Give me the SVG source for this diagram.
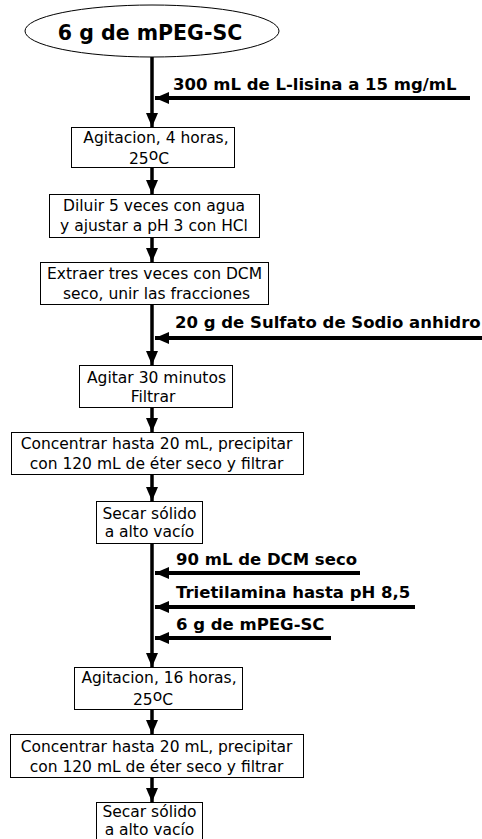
<svg xmlns="http://www.w3.org/2000/svg" width="482" height="839" viewBox="0 0 482 839">
<style>
.box{fill:#fff;stroke:#000;stroke-width:1}
.t{font-family:"DejaVu Sans",Verdana,sans-serif;font-size:15.5px;fill:#000;text-anchor:middle}
.b{font-family:"DejaVu Sans",Verdana,sans-serif;font-size:16.5px;font-weight:bold;fill:#000}
.v{stroke:#000;stroke-width:3.5;fill:none}
.h{stroke:#000;stroke-width:4;fill:none}
</style>
<defs>
<marker id="ah" markerUnits="userSpaceOnUse" markerWidth="14" markerHeight="14" refX="14" refY="7" orient="auto" viewBox="0 0 14 14">
<path d="M0,1 L14,7 L0,13 Z" fill="#000"/>
</marker>
</defs>
<rect width="482" height="839" fill="#fff"/>
<g id="connectors">
<line class="v" x1="152" y1="57" x2="152" y2="127" marker-end="url(#ah)"/>
<line class="v" x1="152" y1="167" x2="152" y2="194" marker-end="url(#ah)"/>
<line class="v" x1="152" y1="237" x2="152" y2="262" marker-end="url(#ah)"/>
<line class="v" x1="152" y1="304" x2="152" y2="365" marker-end="url(#ah)"/>
<line class="v" x1="152" y1="407" x2="152" y2="432" marker-end="url(#ah)"/>
<line class="v" x1="152" y1="474" x2="152" y2="501" marker-end="url(#ah)"/>
<line class="v" x1="152" y1="543" x2="152" y2="667" marker-end="url(#ah)"/>
<line class="v" x1="152" y1="709" x2="152" y2="734" marker-end="url(#ah)"/>
<line class="v" x1="152" y1="777" x2="152" y2="802" marker-end="url(#ah)"/>
<line class="h" x1="470" y1="98" x2="155" y2="98" marker-end="url(#ah)"/>
<line class="h" x1="482" y1="338" x2="155" y2="338" marker-end="url(#ah)"/>
<line class="h" x1="360" y1="573" x2="155" y2="573" marker-end="url(#ah)"/>
<line class="h" x1="415" y1="607" x2="155" y2="607" marker-end="url(#ah)"/>
<line class="h" x1="331" y1="638" x2="155" y2="638" marker-end="url(#ah)"/>
<text class="b" x="173" y="90">300 mL de L-lisina a 15 mg/mL</text>
<text class="b" x="175" y="328">20 g de Sulfato de Sodio anhidro</text>
<text class="b" x="176" y="565">90 mL de DCM seco</text>
<text class="b" x="176" y="598">Trietilamina hasta pH 8,5</text>
<text class="b" x="176" y="630">6 g de mPEG-SC</text>
</g>
<g id="start">
<ellipse cx="152" cy="31" rx="127" ry="26" fill="#fff" stroke="#000" stroke-width="1"/>
<text x="150" y="40" font-family="'DejaVu Sans',Verdana,sans-serif" font-size="20.5" font-weight="bold" text-anchor="middle">6 g de mPEG-SC</text>
</g>
<g id="n1">
<rect class="box" x="71.5" y="127.5" width="163" height="40"/>
<text class="t" x="156" y="143">Agitacion, 4 horas,</text>
<text class="t" x="149" y="164">25<tspan dy="-4">o</tspan><tspan dy="4">C</tspan></text>
</g>
<g id="n2">
<rect class="box" x="49.5" y="194.5" width="210" height="43"/>
<text class="t" x="154" y="211">Diluir 5 veces con agua</text>
<text class="t" x="154" y="231">y ajustar a pH 3 con HCl</text>
</g>
<g id="n3">
<rect class="box" x="40.5" y="262.5" width="228" height="42"/>
<text class="t" x="154.5" y="279">Extraer tres veces con DCM</text>
<text class="t" x="156.5" y="299">seco, unir las fracciones</text>
</g>
<g id="n4">
<rect class="box" x="79.5" y="365.5" width="153" height="42"/>
<text class="t" x="156.5" y="383">Agitar 30 minutos</text>
<text class="t" x="153" y="402">Filtrar</text>
</g>
<g id="n5">
<rect class="box" x="11.5" y="432.5" width="292" height="42"/>
<text class="t" x="156.5" y="449">Concentrar hasta 20 mL, precipitar</text>
<text class="t" x="156.5" y="469">con 120 mL de éter seco y filtrar</text>
</g>
<g id="n6">
<rect class="box" x="96.5" y="501.5" width="106" height="42"/>
<text class="t" x="149.5" y="519">Secar sólido</text>
<text class="t" x="149.5" y="537">a alto vacío</text>
</g>
<g id="n7">
<rect class="box" x="74.5" y="667.5" width="168" height="42"/>
<text class="t" x="159" y="683">Agitacion, 16 horas,</text>
<text class="t" x="153" y="705">25<tspan dy="-4">o</tspan><tspan dy="4">C</tspan></text>
</g>
<g id="n8">
<rect class="box" x="10.5" y="734.5" width="293" height="43"/>
<text class="t" x="156.5" y="752">Concentrar hasta 20 mL, precipitar</text>
<text class="t" x="156.5" y="772">con 120 mL de éter seco y filtrar</text>
</g>
<g id="n9">
<rect class="box" x="96.5" y="802.5" width="106" height="45"/>
<text class="t" x="149.5" y="817">Secar sólido</text>
<text class="t" x="149.5" y="835">a alto vacío</text>
</g>
</svg>
